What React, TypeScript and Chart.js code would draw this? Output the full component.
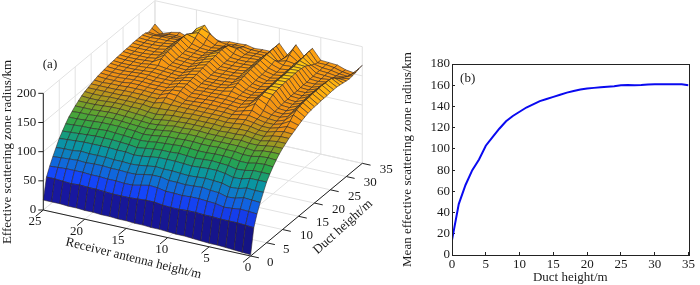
import React, { useEffect, useRef } from "react";
import { Chart, registerables } from "chart.js";

Chart.register(...registerables);

const ductHeights = [0,1,2,3,4,5,6,7,8,9,10,11,12,13,14,15,16,17,18,19,20,21,22,23,24,25,26,27,28,29,30,31,32,33,34,35];
const meanRadius = [14,48,66,80,90,103,111,119,126,131,135,139,142,145,147,149,151,153,154.5,156,157,157.5,158,158.5,159,160,160.2,160,160.2,160.7,161,161,161,161,161,160];
const receiverHeights = [0,1,2,3,4,5,6,7,8,9,10,11,12,13,14,15,16,17,18,19,20,21,22,23,24,25];
const receiverTicks = [0,5,10,15,20,25];
const ductTicks = [0,5,10,15,20,25,30,35];
const radiusTicks = [0,50,100,150,200];

// radius by duct height (rows) and receiver height (columns)
const radiusTable = [
[2,3,4,5,6,6,7,8,9,9,10,11,11,12,12,13,13,14,14,15,15,16,16,17,17,17],
[44,45,46,46,46,47,47,48,48,47,47,48,50,50,49,48,48,48,49,50,50,51,50,51,52,52],
[63,64,65,63,62,65,66,67,67,66,67,67,70,71,68,65,65,66,66,67,67,68,68,68,67,66],
[78,79,80,76,75,79,80,82,81,80,81,81,84,84,82,79,79,80,80,81,81,80,81,80,79,78],
[91,91,92,88,87,91,92,93,92,91,92,93,93,94,92,90,89,90,90,91,91,91,92,90,90,89],
[104,104,104,100,99,103,105,105,104,103,104,105,105,105,103,101,100,102,102,103,103,103,103,102,101,100],
[113,113,113,110,109,112,113,114,113,112,113,114,113,113,112,110,108,110,111,112,112,112,111,110,109,108],
[121,122,121,118,118,120,121,121,120,120,121,122,121,120,119,117,116,117,118,119,120,119,118,118,117,116],
[128,129,128,125,125,127,127,128,127,127,128,128,127,127,125,123,122,124,125,126,126,126,125,124,123,123],
[134,134,133,130,131,132,132,132,132,132,133,133,132,132,130,128,127,128,129,130,131,131,130,129,129,128],
[139,139,137,135,135,137,136,136,136,136,137,137,136,136,134,132,131,132,133,134,135,135,134,133,133,133],
[143,143,141,138,139,141,140,140,139,140,140,140,140,139,138,136,134,136,137,138,139,139,138,137,137,137],
[147,147,145,141,142,144,144,143,142,143,143,143,143,142,142,140,138,139,141,141,142,142,141,140,140,141],
[150,151,148,144,144,147,148,146,145,146,146,146,146,145,145,144,143,142,144,144,144,144,144,143,143,144],
[153,155,150,146,146,149,151,149,147,148,148,148,148,148,148,148,149,145,146,146,147,146,146,146,146,146],
[156,160,152,148,148,151,154,152,149,150,150,150,150,150,149,151,153,148,148,149,149,149,148,148,148,148],
[159,166,154,149,150,152,158,154,150,152,152,152,152,151,150,155,156,150,150,151,151,151,150,150,149,150],
[161,170,156,151,152,156,165,156,152,153,153,154,153,152,152,158,157,152,152,152,153,153,151,151,151,152],
[163,172,157,152,153,162,169,157,153,154,155,155,154,154,153,160,158,153,153,153,154,154,153,152,152,153],
[164,173,159,153,154,167,170,158,154,155,156,156,155,155,154,161,159,154,154,154,155,155,154,153,153,154],
[165,174,160,154,155,170,171,158,155,156,160,157,156,155,155,162,160,155,155,155,156,156,155,154,154,155],
[165,174,160,155,156,172,172,158,155,157,163,158,156,156,156,163,160,155,155,156,157,156,155,155,155,156],
[166,175,161,155,156,173,172,158,155,157,165,158,156,156,156,164,161,155,156,157,158,157,156,155,155,156],
[166,175,162,156,157,173,172,159,156,158,167,158,157,156,156,165,162,156,156,157,159,158,156,156,156,157],
[166,175,162,156,157,174,173,159,156,158,168,159,157,157,157,166,162,156,157,158,166,158,157,156,156,157],
[167,176,162,157,157,174,173,160,157,159,169,159,158,157,157,167,163,157,157,158,168,159,157,157,157,158],
[167,175,162,157,158,174,173,160,157,160,170,160,158,158,158,168,163,157,158,159,169,160,158,157,157,158],
[167,175,162,157,158,175,173,160,157,160,171,160,158,158,158,168,164,158,158,159,170,160,158,158,158,158],
[166,174,161,158,158,175,174,160,158,161,171,160,159,158,159,169,164,158,158,160,171,161,158,158,158,159],
[165,170,160,158,159,174,174,161,158,162,172,160,159,159,159,170,164,158,159,160,171,161,159,158,158,159],
[164,165,160,158,159,173,174,161,159,164,172,161,159,159,160,170,163,158,159,161,172,161,159,158,158,159],
[163,161,158,159,160,170,175,162,161,166,173,161,160,159,162,170,161,158,159,163,172,160,159,159,158,159],
[164,158,157,159,160,166,176,162,164,160,173,160,160,159,166,168,160,158,160,168,172,159,158,158,157,158],
[165,155,156,159,160,163,177,161,170,158,174,159,159,158,163,162,159,158,165,173,168,156,156,155,153,155],
[167,153,155,159,161,161,178,161,174,157,174,158,158,158,160,160,158,160,170,176,165,152,154,153,150,157],
[168,152,154,159,160,161,178,161,178,157,174,157,157,156,159,158,158,155,158,177,168,150,155,152,147,160],
];

const colorStops: [number, number[]][] = [
  [0,[18,16,105]],[30,[25,25,170]],[55,[20,70,250]],[75,[15,115,210]],[95,[10,150,160]],
  [115,[40,165,75]],[130,[90,165,50]],[142,[170,150,30]],[152,[240,145,20]],[165,[255,160,15]],[178,[255,225,20]],
];

const SERIF = "'Liberation Serif', serif";
const TEXT = "#1a1a1a";

function colorFor(z: number) {
  for (let i = 1; i < colorStops.length; i++) {
    const [b, cb] = colorStops[i];
    if (z <= b) {
      const [a, ca] = colorStops[i - 1];
      const f = (z - a) / (b - a);
      return `rgb(${ca.map((c, k) => Math.round(c + (cb[k] - c) * f)).join(",")})`;
    }
  }
  return "rgb(255,225,20)";
}

function project(rx: number, d: number, z: number) {
  return {
    x: 43.3 + (25 - rx) * 8.293 + d * 3.19,
    y: 210 + (25 - rx) * 1.84 - d * 2.648 - z * 0.5833,
  };
}

function segment(points: { x: number; y: number }[], color: string, width: number) {
  return { data: points, borderColor: color, borderWidth: width, pointRadius: 0, fill: false, tension: 0 };
}

function surfaceDatasets() {
  const out: any[] = [];
  for (let d = 0; d < ductHeights.length - 1; d++) {
    for (let r = 0; r < receiverHeights.length - 1; r++) {
      const pts = [
        project(receiverHeights[r], ductHeights[d], radiusTable[d][r]),
        project(receiverHeights[r + 1], ductHeights[d], radiusTable[d][r + 1]),
        project(receiverHeights[r + 1], ductHeights[d + 1], radiusTable[d + 1][r + 1]),
        project(receiverHeights[r], ductHeights[d + 1], radiusTable[d + 1][r]),
      ];
      pts.push(pts[0]);
      const z = (radiusTable[d][r] + radiusTable[d][r + 1] * 0.5 + radiusTable[d + 1][r] * 0.5) / 2;
      out.push({
        data: pts, borderColor: "rgba(45,35,35,0.8)", borderWidth: 0.7, pointRadius: 0,
        backgroundColor: colorFor(z), fill: "shape", tension: 0,
      });
    }
  }
  return out;
}

function boxDatasets() {
  const GRID = "#e2e2e2";
  const out: any[] = [];
  const zMax = radiusTicks[radiusTicks.length - 1];
  const rMax = receiverTicks[receiverTicks.length - 1];
  const dMax = ductTicks[ductTicks.length - 1];
  for (const r of receiverTicks) {
    out.push(segment([project(r, 0, 0), project(r, dMax, 0), project(r, dMax, zMax)], GRID, 1));
  }
  for (const d of ductTicks) {
    out.push(segment([project(0, d, 0), project(rMax, d, 0), project(rMax, d, zMax)], GRID, 1));
  }
  for (const z of radiusTicks) {
    out.push(segment([project(rMax, 0, z), project(rMax, dMax, z), project(0, dMax, z)], GRID, 1));
  }
  return out;
}

function axisDatasets() {
  const INK = "#222";
  const out: any[] = [];
  const rMax = receiverTicks[receiverTicks.length - 1];
  const dMax = ductTicks[ductTicks.length - 1];
  const zMax = radiusTicks[radiusTicks.length - 1];
  out.push(segment([project(rMax, 0, 0), project(rMax, 0, zMax)], INK, 1));
  out.push(segment([project(rMax, 0, 0), project(0, 0, 0)], INK, 1));
  out.push(segment([project(0, 0, 0), project(0, dMax, 0)], INK, 1));
  for (const r of receiverTicks) out.push(segment([project(r, 0, 0), project(r, -2.4, 0)], INK, 1));
  for (const d of ductTicks) out.push(segment([project(0, d, 0), project(-1, d, 0)], INK, 1));
  for (const z of radiusTicks) {
    const p = project(rMax, 0, z);
    out.push(segment([p, { x: p.x - 5, y: p.y }], INK, 1));
  }
  return out;
}

const surfaceText = {
  id: "surfaceText",
  afterDraw(chart: any) {
    const { ctx, scales } = chart;
    const put = (s: string, x: number, y: number, rot = 0, size = 13, align: CanvasTextAlign = "center") => {
      ctx.save();
      ctx.translate(scales.x.getPixelForValue(x), scales.y.getPixelForValue(y));
      ctx.rotate(rot);
      ctx.font = `${size}px ${SERIF}`;
      ctx.fillStyle = TEXT;
      ctx.textAlign = align;
      ctx.textBaseline = "middle";
      ctx.fillText(s, 0, 0);
      ctx.restore();
    };
    for (const z of radiusTicks) {
      const p = project(25, 0, z);
      put(String(z), p.x - 7, p.y, 0, 13, "right");
    }
    for (const r of receiverTicks) {
      const p = project(r, 0, 0);
      put(String(r), p.x + (r >= 15 ? -8.3 : r >= 10 ? -6 : -2.7), p.y + 12);
    }
    for (const d of ductTicks) {
      const p = project(0, d, 0);
      put(String(d), p.x + (d < 10 ? 19.6 : 24), p.y + 6.5);
    }
    put("(a)", 50, 65);
    put("Effective scattering zone radius/km", 8, 152, -Math.PI / 2, 13);
    put("Receiver antenna height/m", 133.5, 258.5, (13.8 * Math.PI) / 180, 13);
    put("Duct height/m", 343, 227, (-42 * Math.PI) / 180, 13);
  },
};

const lineDecor = {
  id: "lineDecor",
  afterDraw(chart: any) {
    const { ctx, chartArea: a, scales } = chart;
    ctx.save();
    ctx.strokeStyle = "#222";
    ctx.lineWidth = 1;
    ctx.strokeRect(Math.round(a.left) + 0.5, Math.round(a.top) + 0.5, Math.round(a.width), Math.round(a.height));
    ctx.font = `13px ${SERIF}`;
    ctx.fillStyle = TEXT;
    ctx.textBaseline = "middle";
    ctx.fillText("(b)", scales.x.getPixelForValue(1.2), scales.y.getPixelForValue(166));
    ctx.restore();
  },
};

export default function App() {
  const leftRef = useRef<HTMLCanvasElement>(null);
  const rightRef = useRef<HTMLCanvasElement>(null);

  useEffect(() => {
    const left = new Chart(leftRef.current!, {
      type: "line",
      data: { datasets: [...axisDatasets(), ...surfaceDatasets(), ...boxDatasets()] } as any,
      options: {
        animation: false, responsive: false,
        plugins: { legend: { display: false }, tooltip: { enabled: false } },
        layout: { padding: 0 },
        events: [],
        scales: {
          x: { type: "linear", display: false, min: 0, max: 400 },
          y: { type: "linear", display: false, min: 0, max: 285, reverse: true },
        },
      },
      plugins: [surfaceText],
    } as any);

    const tickFont = { family: SERIF, size: 13 };
    const right = new Chart(rightRef.current!, {
      type: "line",
      data: {
        datasets: [{
          data: ductHeights.map((x, i) => ({ x, y: meanRadius[i] })),
          borderColor: "#0a0af0", borderWidth: 2, pointRadius: 0, tension: 0, fill: false,
        }],
      },
      options: {
        animation: false, responsive: false,
        plugins: { legend: { display: false }, tooltip: { enabled: false } },
        events: [],
        layout: { padding: { left: 0, right: 5, top: 64, bottom: 0 } },
        scales: {
          x: {
            type: "linear", min: 0, max: 35,
            afterFit: (s: any) => { s.height = 30; },
            grid: { drawOnChartArea: false, drawTicks: true, tickLength: -3, color: "#222" },
            border: { color: "#222" },
            ticks: { stepSize: 5, padding: 5, maxRotation: 0, color: TEXT, font: tickFont },
            title: { display: true, text: "Duct height/m", color: TEXT, font: tickFont, padding: { top: 0, bottom: 0 } },
          },
          y: {
            type: "linear", min: 0, max: 180,
            afterFit: (s: any) => { s.width = 52; },
            grid: { drawOnChartArea: false, drawTicks: true, tickLength: -3, color: "#222" },
            border: { color: "#222" },
            ticks: { stepSize: 20, padding: 5, color: TEXT, font: tickFont },
            title: { display: true, text: "Mean effective scattering zone radius/km", color: TEXT, font: tickFont, padding: { top: 0, bottom: 0 } },
          },
        },
      },
      plugins: [lineDecor],
    } as any);

    return () => { left.destroy(); right.destroy(); };
  }, []);

  return (
    <div style={{ position: "absolute", left: 0, top: 0, width: 700, height: 285, background: "#fff", overflow: "hidden" }}>
      <canvas ref={leftRef} width={400} height={285} style={{ position: "absolute", left: 0, top: 0 }} />
      <canvas ref={rightRef} width={300} height={285} style={{ position: "absolute", left: 400, top: 0 }} />
    </div>
  );
}
